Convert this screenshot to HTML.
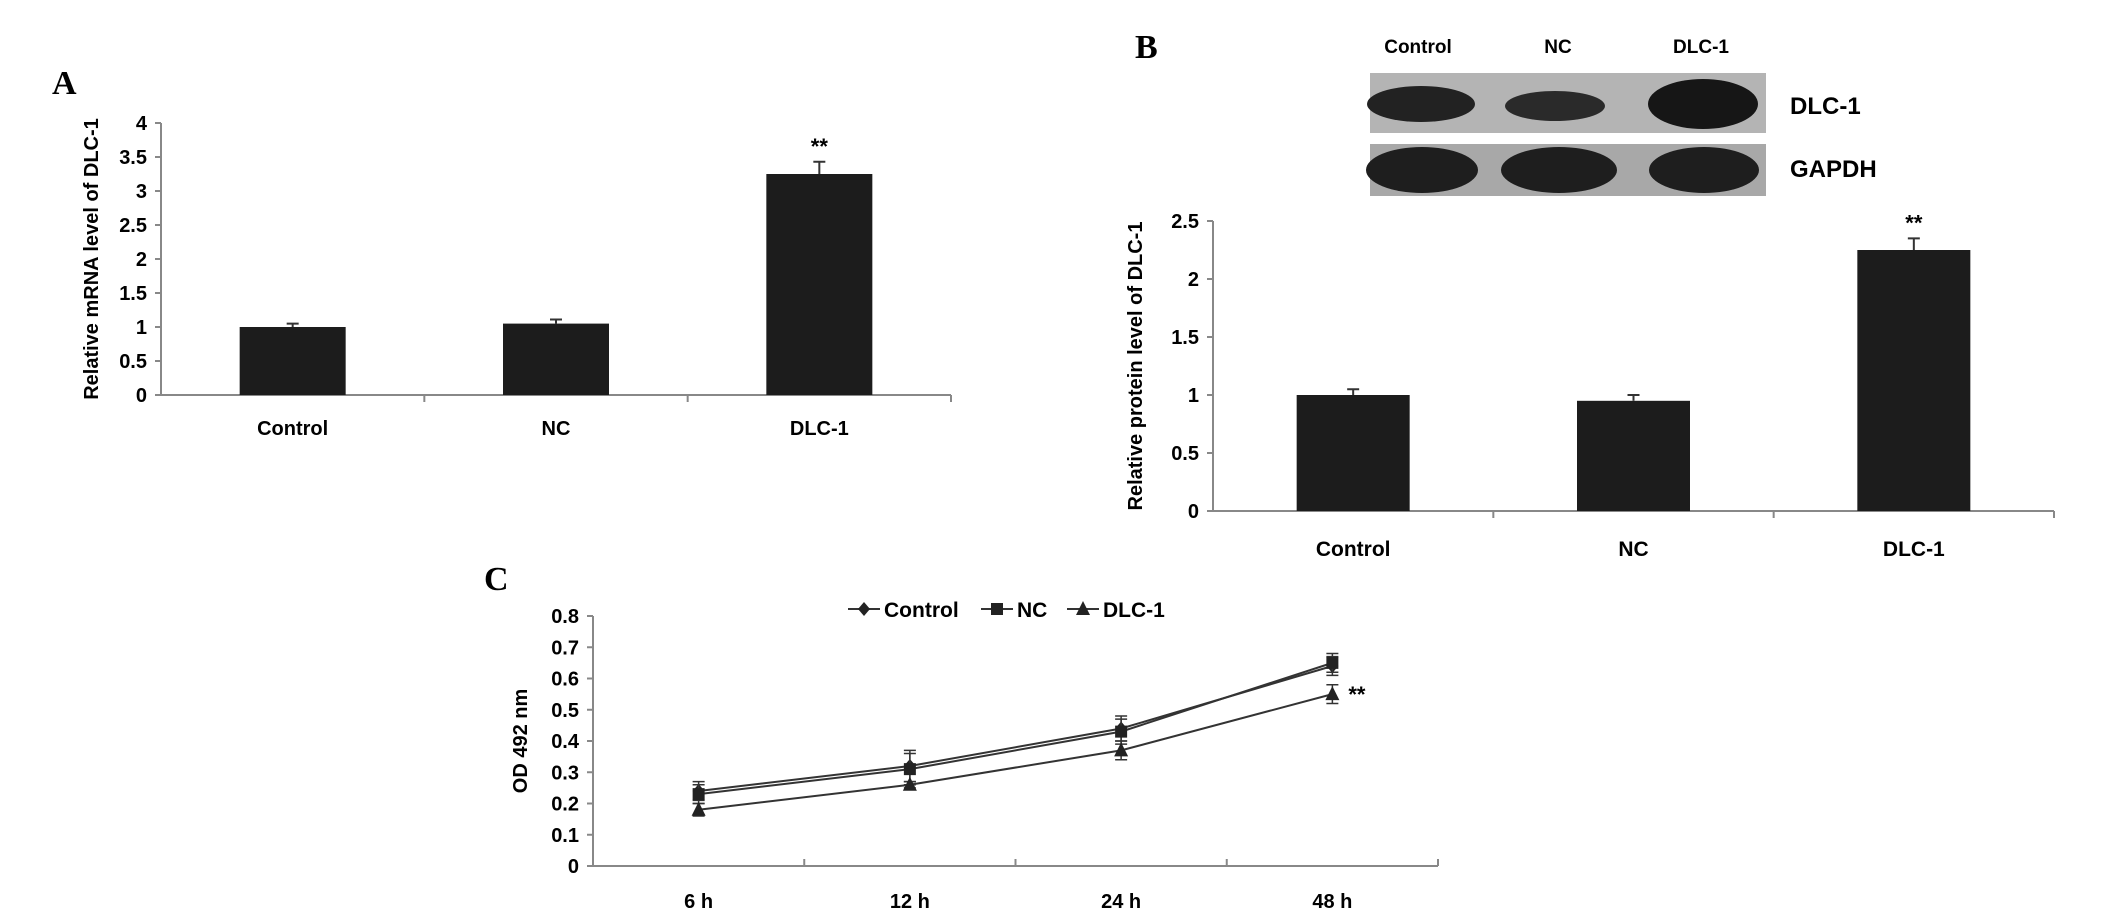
<!DOCTYPE html>
<html><head><meta charset="utf-8"><style>
html,body{margin:0;padding:0;background:#fff;}
svg{display:block;font-family:"Liberation Sans",sans-serif;}
</style></head><body>
<svg id="fig" width="2126" height="913" viewBox="0 0 2126 913">
<text x="52" y="94" font-family="Liberation Serif,serif" font-weight="bold" font-size="34">A</text>
<text x="1135" y="58" font-family="Liberation Serif,serif" font-weight="bold" font-size="34">B</text>
<text x="484" y="590" font-family="Liberation Serif,serif" font-weight="bold" font-size="34">C</text>
<g id="blot">
<text x="1418" y="53" text-anchor="middle" font-weight="bold" font-size="19">Control</text>
<text x="1558" y="53" text-anchor="middle" font-weight="bold" font-size="19">NC</text>
<text x="1701" y="53" text-anchor="middle" font-weight="bold" font-size="19">DLC-1</text>
<rect x="1370" y="73" width="396" height="60" fill="#b4b4b4"/>
<rect x="1370" y="144" width="396" height="52" fill="#a8a8a8"/>
<ellipse cx="1421" cy="104" rx="54" ry="18" fill="#222"/>
<ellipse cx="1555" cy="106" rx="50" ry="15" fill="#2a2a2a"/>
<ellipse cx="1703" cy="104" rx="55" ry="25" fill="#161616"/>
<ellipse cx="1422" cy="170" rx="56" ry="23" fill="#1e1e1e"/>
<ellipse cx="1559" cy="170" rx="58" ry="23" fill="#1e1e1e"/>
<ellipse cx="1704" cy="170" rx="55" ry="23" fill="#1e1e1e"/>
<text x="1790" y="114" font-weight="bold" font-size="24">DLC-1</text>
<text x="1790" y="177" font-weight="bold" font-size="24">GAPDH</text>
</g>
</svg>
<script>
const catsA=["Control","NC","DLC-1"];
const valsA=[1.0,1.05,3.25];
const errA=[0.05,0.06,0.18];
const ticksA=["0","0.5","1","1.5","2","2.5","3","3.5","4"];
const catsB=["Control","NC","DLC-1"];
const valsB=[1.0,0.95,2.25];
const errB=[0.05,0.05,0.1];
const ticksB=["0","0.5","1","1.5","2","2.5"];
const catsC=["6 h","12 h","24 h","48 h"];
const ctrlC=[0.24,0.32,0.44,0.64];
const ncC=[0.23,0.31,0.43,0.65];
const dlcC=[0.18,0.26,0.37,0.55];
const ctrlErr=[0.03,0.05,0.04,0.03];
const ncErr=[0.03,0.05,0.04,0.03];
const dlcErr=[0.02,0.01,0.03,0.03];
const ticksC=["0","0.1","0.2","0.3","0.4","0.5","0.6","0.7","0.8"];
const NS="http://www.w3.org/2000/svg";
const svg=document.getElementById('fig');
function mk(t,a,txt){const e=document.createElementNS(NS,t);for(const k in a)e.setAttribute(k,a[k]);if(txt!==undefined)e.textContent=txt;svg.appendChild(e);return e;}
function barChart(p){
  const {x0,x1,y0,y1,max,cats,vals,errs,ticks,title,pre,bw,tfs,lfs,ly}=p;
  const ys=v=>y0-(v/max)*(y0-y1);
  const step=(x1-x0)/cats.length;
  const xs=i=>x0+step*(i+0.5);
  let e=mk('line',{x1:x0,y1:y1,x2:x0,y2:y0,stroke:'#888','stroke-width':2});
  
  e=mk('line',{x1:x0,y1:y0,x2:x1,y2:y0,stroke:'#888','stroke-width':2});
  
  ticks.forEach(t=>{const v=parseFloat(t),y=ys(v);
    const l=mk('line',{x1:x0-6,y1:y,x2:x0,y2:y,stroke:'#888','stroke-width':2});
    
    const tx=mk('text',{x:x0-14,y:y+7,'text-anchor':'end','font-weight':'bold','font-size':tfs},t);
    });
  for(let i=1;i<=cats.length;i++){const l=mk('line',{x1:x0+step*i,y1:y0,x2:x0+step*i,y2:y0+7,stroke:'#888','stroke-width':2});
    }
  cats.forEach((c,i)=>{const cx=xs(i),top=ys(vals[i]),et=ys(vals[i]+errs[i]);
    const r=mk('rect',{x:cx-bw/2,y:top,width:bw,height:y0-top,fill:'#1c1c1c'});
    
    const el=mk('path',{d:`M${cx},${top} V${et} M${cx-6},${et} H${cx+6}`,stroke:'#333','stroke-width':2,fill:'none'});
    
    const t=mk('text',{x:cx,y:ly,'text-anchor':'middle','font-weight':'bold','font-size':lfs},c);
    
    if(i===2){const s=mk('text',{x:cx,y:et-8,'text-anchor':'middle','font-weight':'bold','font-size':22},'**');
      }
  });
  const tt=mk('text',{x:0,y:0,'text-anchor':'middle','font-weight':'bold','font-size':20,transform:`translate(${p.tx},${(y0+y1)/2}) rotate(-90)`},title);
  
}
barChart({x0:161,x1:951,y0:395,y1:123,max:4,cats:catsA,vals:valsA,errs:errA,ticks:ticksA,title:"Relative mRNA level of DLC-1",pre:"a",bw:106,tfs:20,lfs:20,ly:435,tx:98});
barChart({x0:1213,x1:2054,y0:511,y1:221,max:2.5,cats:catsB,vals:valsB,errs:errB,ticks:ticksB,title:"Relative protein level of DLC-1",pre:"b",bw:113,tfs:20,lfs:21,ly:556,tx:1142});
(function(){
  const x0=593,x1=1438,y0=866,y1=616,max=0.8;
  const ys=v=>y0-(v/max)*(y0-y1);
  const step=(x1-x0)/catsC.length;
  const xs=i=>x0+step*(i+0.5);
  let e=mk('line',{x1:x0,y1:y1,x2:x0,y2:y0,stroke:'#888','stroke-width':2});
  
  e=mk('line',{x1:x0,y1:y0,x2:x1,y2:y0,stroke:'#888','stroke-width':2});
  
  ticksC.forEach(t=>{const y=ys(parseFloat(t));
    const l=mk('line',{x1:x0-6,y1:y,x2:x0,y2:y,stroke:'#888','stroke-width':2});
    
    const tx=mk('text',{x:x0-14,y:y+7,'text-anchor':'end','font-weight':'bold','font-size':20},t);
    });
  for(let i=1;i<=catsC.length;i++){const l=mk('line',{x1:x0+step*i,y1:y0,x2:x0+step*i,y2:y0-7,stroke:'#888','stroke-width':2});
    }
  catsC.forEach((c,i)=>{const t=mk('text',{x:xs(i),y:908,'text-anchor':'middle','font-weight':'bold','font-size':20},c);
    });
  const series=[[ctrlC,ctrlErr,'control','diamond'],[ncC,ncErr,'nc','square'],[dlcC,dlcErr,'dlc1','triangle']];
  function marker(shape,x,y){
    if(shape==='diamond')return mk('path',{d:`M${x},${y-7} L${x+6},${y} L${x},${y+7} L${x-6},${y}Z`,fill:'#222'});
    if(shape==='square')return mk('rect',{x:x-6,y:y-6,width:12,height:12,fill:'#222'});
    return mk('path',{d:`M${x},${y-8} L${x+7},${y+6} L${x-7},${y+6}Z`,fill:'#222'});
  }
  series.forEach(([vals,errs,name,shape])=>{
    const pl=mk('polyline',{points:vals.map((v,i)=>xs(i)+','+ys(v)).join(' '),fill:'none',stroke:'#333','stroke-width':2});
    
    vals.forEach((v,i)=>{const x=xs(i),a=ys(v+errs[i]),b=ys(v-errs[i]);
      const eb=mk('path',{d:`M${x},${a} V${b} M${x-6},${a} H${x+6} M${x-6},${b} H${x+6}`,stroke:'#333','stroke-width':1.5,fill:'none'});
      
      const m=marker(shape,x,ys(v));
      });
  });
  const s=mk('text',{x:xs(3)+16,y:ys(dlcC[3])+8,'font-weight':'bold','font-size':22},'**');
  
  const lg=[['Control','diamond',848],['NC','square',981],['DLC-1','triangle',1067]];
  lg.forEach(([t,sh,lx])=>{
    const l=mk('line',{x1:lx,y1:609,x2:lx+32,y2:609,stroke:'#333','stroke-width':2});
    
    const m=marker(sh,lx+16,609);
    const tx=mk('text',{x:lx+36,y:617,'font-weight':'bold','font-size':21},t);
    });
  const tt=mk('text',{x:0,y:0,'text-anchor':'middle','font-weight':'bold','font-size':20,transform:`translate(527,${(y0+y1)/2}) rotate(-90)`},'OD 492 nm');
  
})();
</script>
</body></html>
